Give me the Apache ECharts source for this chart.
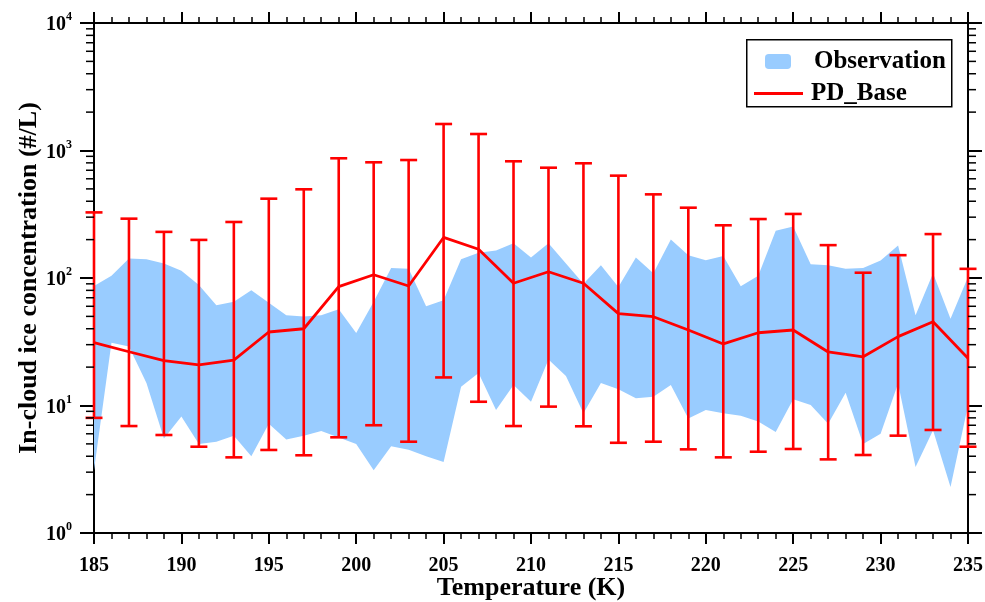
<!DOCTYPE html>
<html>
<head>
<meta charset="utf-8">
<script src="https://cdn.jsdelivr.net/npm/echarts@6/dist/echarts.min.js"></script>
<style>html,body{margin:0;padding:0;background:#fff;}#c{width:985px;height:602px;}</style>
</head>
<body>
<div id="c"></div>
<script>
// Observation band (1 K resolution)
const obsT = [185,186,187,188,189,190,191,192,193,194,195,196,197,198,199,200,201,202,203,204,205,206,207,208,209,210,211,212,213,214,215,216,217,218,219,220,221,222,223,224,225,226,227,228,229,230,231,232,233,234,235];
const obsUpper = [86.5,104,142,140,130,114,88,61,65,80,64,51,50,51,57,37,65,120,118,60,67,140,158,164,187,145,187,130,90,126,85,145,109,200,151,138,149,86,104,235,253,128,126,118,120,137,180,51,109,48,102];
const obsLower = [3.1,31,29,15,5.5,8.2,5.0,5.2,5.8,4.0,7.2,5.4,5.8,6.3,5.6,5.0,3.1,4.8,4.5,4.0,3.6,14,18,9.2,14.5,10.7,23,17,8.7,15,13.4,11.4,11.7,14.5,7.9,9.2,8.7,8.3,7.5,6.2,11.2,10.1,7.2,12.6,5.0,6.0,14.9,3.3,6.4,2.3,10];

// PD_Base model (2 K resolution) with error bars
const modT = [185,187,189,191,193,195,197,199,201,203,205,207,209,211,213,215,217,219,221,223,225,227,229,231,233,235];
const modMean = [31.1,26.4,22.5,20.8,22.7,37.7,40,85.5,106,86.5,208,168,90.9,112,90.9,52.5,49.7,39.1,30.4,37.2,39.1,26.3,24.1,34.7,45.4,23.5];
const modUpper = [327,292,230,199,275,419,496,869,808,842,1614,1347,823,733,794,635,453,356,259,290,318,181,110,151,221,118];
const modLower = [8.0,6.9,5.87,4.75,3.92,4.48,4.07,5.63,7.0,5.2,16.6,10.7,6.9,9.8,6.87,5.1,5.2,4.53,3.92,4.34,4.56,3.78,4.09,5.8,6.43,4.75];

// Axis ticks
const xMin = 185, xMax = 235, xInterval = 5;
const yMajorTicks = [1,10,100,1000,10000];
const yMinorTicks = [2,3,4,5,6,7,8,9,20,30,40,50,60,70,80,90,200,300,400,500,600,700,800,900,2000,3000,4000,5000,6000,7000,8000,9000];

const FONT = '"Liberation Serif", "Times New Roman", serif';
const BLUE = '#99CCFF';
const RED = '#FF0000';

const chart = echarts.init(document.getElementById('c'), null, {renderer: 'canvas'});

const xCommon = {
  type: 'value', min: xMin, max: xMax, interval: xInterval,
  axisLine: {show: true, onZero: false, lineStyle: {color: '#000', width: 2}},
  axisTick: {show: true, inside: false, length: 11, lineStyle: {color: '#000', width: 2}},
  minorTick: {show: true, splitNumber: 5, length: 6, lineStyle: {color: '#000', width: 1.5}},
  splitLine: {show: false}, minorSplitLine: {show: false}
};
const yCommon = {
  type: 'log', logBase: 10, min: yMajorTicks[0], max: yMajorTicks[yMajorTicks.length - 1],
  axisLine: {show: true, onZero: false, lineStyle: {color: '#000', width: 2}},
  axisTick: {show: true, inside: false, length: 14, lineStyle: {color: '#000', width: 2}},
  splitLine: {show: false}, minorSplitLine: {show: false}
};

const option = {
  backgroundColor: '#fff',
  animation: false,
  grid: {left: 94, right: 17, top: 23, bottom: 69, containLabel: false, outerBoundsMode: 'none'},
  xAxis: [
    Object.assign({}, xCommon, {
      position: 'bottom',
      name: 'Temperature (K)', nameLocation: 'middle', nameGap: 42, nameMoveOverlap: false,
      nameTextStyle: {fontFamily: FONT, fontWeight: 'bold', fontSize: 26, color: '#000'},
      axisLabel: {show: true, margin: 23, fontFamily: FONT, fontWeight: 'bold', fontSize: 20, color: '#000'}
    }),
    Object.assign({}, xCommon, {position: 'top', axisLabel: {show: false}})
  ],
  yAxis: [
    Object.assign({}, yCommon, {
      position: 'left',
      name: 'In-cloud ice concentration (#/L)', nameLocation: 'middle', nameGap: 52, nameMoveOverlap: false,
      nameTextStyle: {fontFamily: FONT, fontWeight: 'bold', fontSize: 26, color: '#000'},
      axisLabel: {
        show: true, margin: 22,
        formatter: function (v) { return '{a|10}{b|' + Math.round(Math.log10(v)) + '}'; },
        rich: {
          a: {fontFamily: FONT, fontWeight: 'bold', fontSize: 20, color: '#000', lineHeight: 24, verticalAlign: 'bottom'},
          b: {fontFamily: FONT, fontWeight: 'bold', fontSize: 12, color: '#000', lineHeight: 24, verticalAlign: 'top'}
        }
      }
    }),
    Object.assign({}, yCommon, {position: 'right', axisLabel: {show: false}})
  ],
  legend: [
    {
      data: [{name: 'Observation', icon: 'roundRect'}],
      left: 765, top: 49, padding: 0, itemWidth: 26, itemHeight: 15,
      textStyle: {fontFamily: FONT, fontWeight: 'bold', fontSize: 25, color: '#000', padding: [0, 0, 0, 18]}
    },
    {
      data: [{name: 'PD_Base', icon: 'rect'}],
      left: 754, top: 81, padding: 0, itemWidth: 49, itemHeight: 3,
      textStyle: {fontFamily: FONT, fontWeight: 'bold', fontSize: 25, color: '#000', padding: [0, 0, 0, 3]}
    }
  ],
  graphic: [{
    type: 'rect', left: 746, top: 39, z: 100,
    shape: {width: 205, height: 67},
    style: {fill: 'transparent', stroke: '#000', lineWidth: 1.5}
  }],
  series: [
    {
      name: 'Observation', type: 'custom', z: 1,
      itemStyle: {color: BLUE},
      data: obsT.map((t, i) => [t, obsLower[i], obsUpper[i]]),
      encode: {x: 0, y: [1, 2]},
      renderItem: function (params, api) {
        if (params.dataIndex !== 0) return null;
        const up = obsT.map((t, i) => api.coord([t, obsUpper[i]]));
        const lo = obsT.map((t, i) => api.coord([t, obsLower[i]])).reverse();
        return {type: 'polygon', shape: {points: up.concat(lo)}, style: {fill: BLUE}};
      }
    },
    {
      name: 'PD_Base', type: 'custom', z: 3, clip: false,
      itemStyle: {color: RED},
      data: modT.map((t, i) => [t, modLower[i], modUpper[i]]),
      encode: {x: 0, y: [1, 2]},
      renderItem: function (params, api) {
        const x = api.value(0);
        const pHi = api.coord([x, api.value(2)]);
        const pLo = api.coord([x, api.value(1)]);
        const w = 8.5;
        const st = {stroke: RED, lineWidth: 2.6};
        return {type: 'group', children: [
          {type: 'line', shape: {x1: pHi[0], y1: pHi[1], x2: pLo[0], y2: pLo[1]}, style: st},
          {type: 'line', shape: {x1: pHi[0] - w, y1: pHi[1], x2: pHi[0] + w, y2: pHi[1]}, style: st},
          {type: 'line', shape: {x1: pLo[0] - w, y1: pLo[1], x2: pLo[0] + w, y2: pLo[1]}, style: st}
        ]};
      }
    },
    {
      name: 'PD_Base', type: 'line', z: 4,
      data: modT.map((t, i) => [t, modMean[i]]),
      showSymbol: false, symbol: 'none',
      itemStyle: {color: RED},
      lineStyle: {color: RED, width: 2.8}
    },
    {
      name: 'yMinor', type: 'custom', z: 6, clip: false, silent: true,
      data: yMinorTicks.map(v => [xMin, v]),
      renderItem: function (params, api) {
        const v = api.value(1);
        const pL = api.coord([xMin, v]);
        const pR = api.coord([xMax, v]);
        const st = {stroke: '#000', lineWidth: 1.5};
        return {type: 'group', children: [
          {type: 'line', shape: {x1: pL[0] - 8, y1: pL[1], x2: pL[0], y2: pL[1]}, style: st},
          {type: 'line', shape: {x1: pR[0], y1: pR[1], x2: pR[0] + 8, y2: pR[1]}, style: st}
        ]};
      }
    }
  ]
};
chart.setOption(option);
</script>
</body>
</html>
